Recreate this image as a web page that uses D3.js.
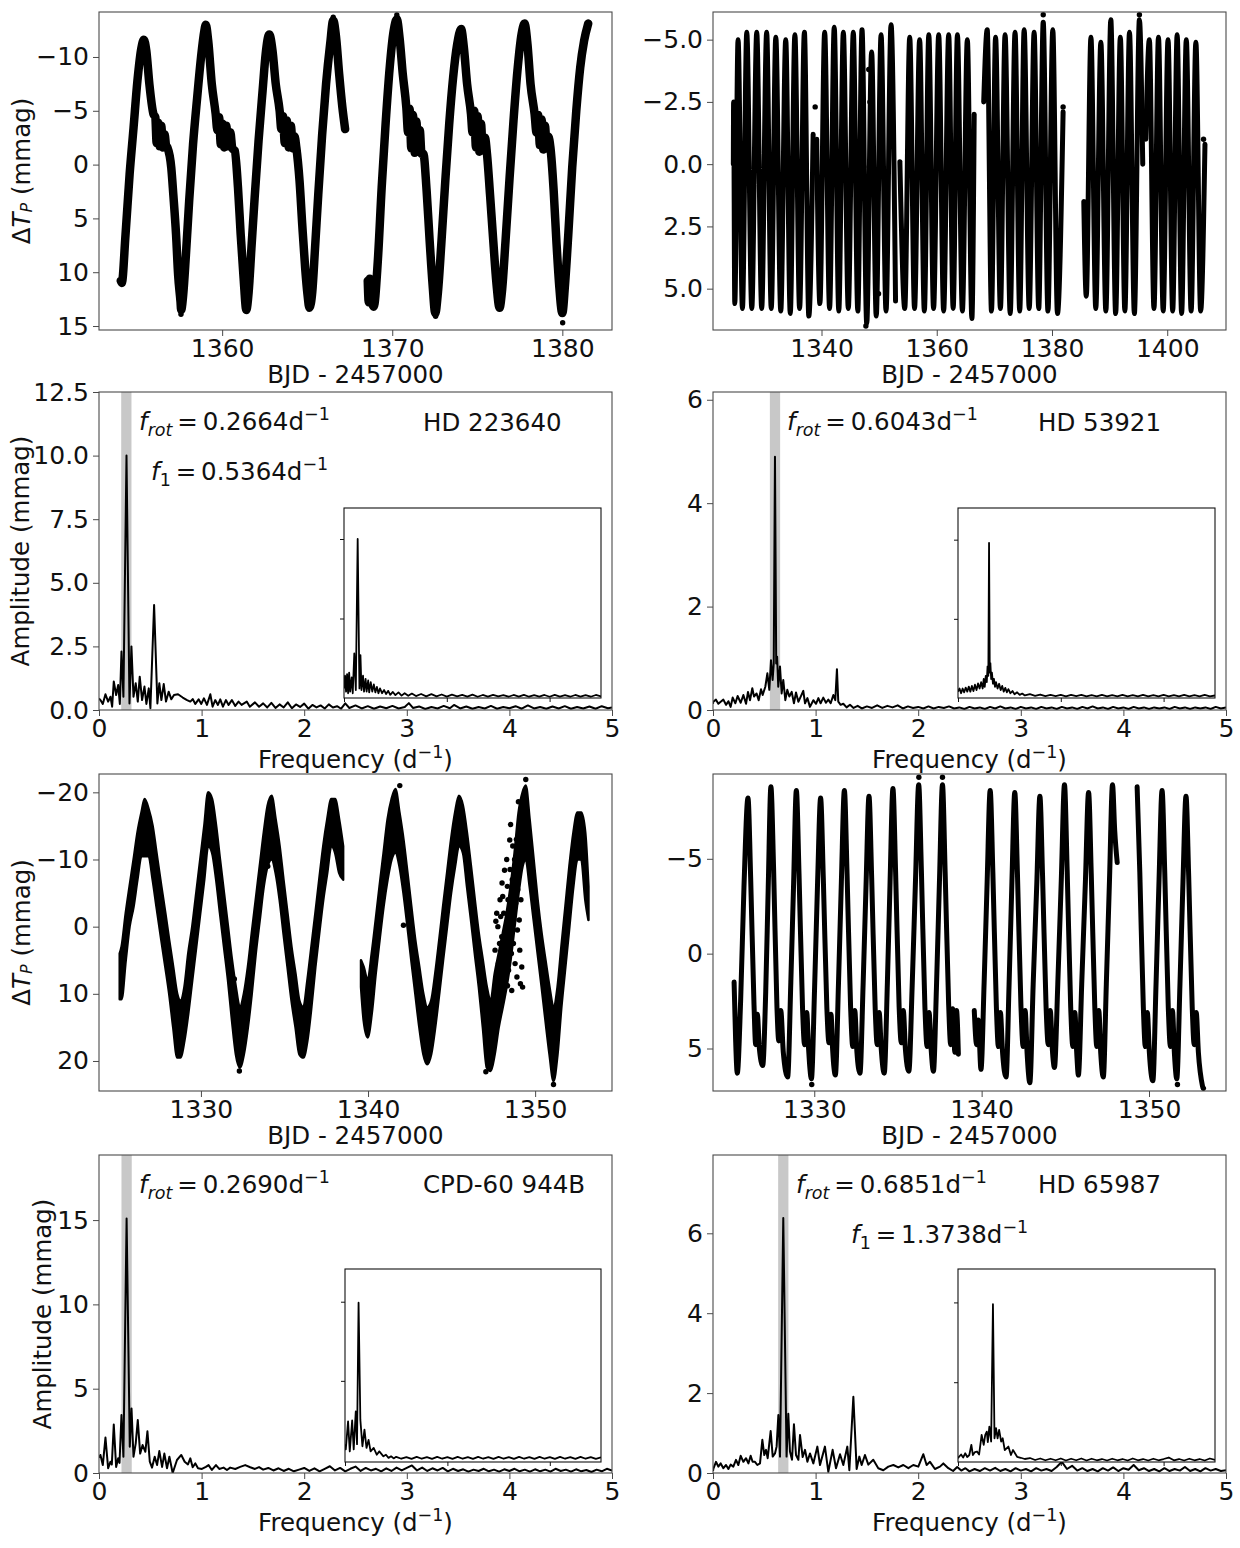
<!DOCTYPE html>
<html><head><meta charset="utf-8">
<script src="https://cdn.jsdelivr.net/npm/d3@7"></script>
<style>
body{margin:0;background:#fff}
svg{display:block}
text{font-family:"DejaVu Sans",sans-serif;fill:#111}
</style>
</head><body>
<script>
// ---------------- DATA ----------------
const lcHD223640 = [
 [[1354.04,10.8],[1354.1,11.0],[1354.32,6.5],[1354.56,0.9],[1354.79,-3.4],[1355.02,-7.8],[1355.26,-10.9],[1355.4,-11.6],[1355.54,-10.6],[1355.72,-7.5],[1355.96,-4.7],
  [1356.07,-4.4],[1356.15,-2.0],[1356.24,-3.9],[1356.33,-1.7],[1356.42,-3.6],[1356.52,-1.6],[1356.62,-2.8],[1356.7,-1.8],
  [1356.78,-1.6],[1357.01,0.3],[1357.13,2.8],[1357.29,6.5],[1357.41,10.2],[1357.55,12.7],[1357.59,13.5],[1357.71,12.1],[1357.87,8.4],[1358.06,3.4],[1358.29,-1.9],[1358.53,-6.2],[1358.76,-10],[1358.95,-12.4],[1359.04,-13.0],[1359.18,-11.5],[1359.39,-7.5],[1359.62,-4.7],
  [1359.72,-3.2],[1359.82,-4.4],[1359.92,-1.9],[1360.02,-3.8],[1360.12,-1.6],[1360.24,-3.6],[1360.36,-1.7],[1360.48,-3.0],[1360.6,-1.5],
  [1360.74,-1.3],[1360.93,2.1],[1361.09,6.5],[1361.26,10.5],[1361.42,13.5],[1361.56,11.8],[1361.72,7.8],[1361.91,3.1],[1362.14,-2.2],[1362.38,-6.9],[1362.56,-10.3],[1362.77,-12.1],[1362.96,-10.6],[1363.15,-7.5],[1363.38,-5.0],
  [1363.48,-3.3],[1363.58,-4.5],[1363.68,-2.0],[1363.8,-4.1],[1363.92,-1.6],[1364.04,-3.6],[1364.16,-1.5],[1364.26,-2.6],
  [1364.36,-1.6],[1364.55,1.5],[1364.71,5.6],[1364.88,9.6],[1365.02,12.1],[1365.13,13.3],[1365.3,11.8],[1365.46,7.8],[1365.65,2.8],[1365.88,-2.8],[1366.11,-7.5],[1366.35,-11.2],[1366.53,-13.4],[1366.7,-11.8],[1366.88,-8.4],[1367.07,-5.3],[1367.23,-3.3]],
 [[1368.56,10.8],[1368.62,12.8],[1368.68,10.6],[1368.73,12.1],[1368.91,13.2],[1369.15,9.0],[1369.38,2.1],[1369.61,-3.8],[1369.85,-9.0],[1370.08,-12.4],[1370.27,-13.5],[1370.43,-11.8],[1370.62,-8.4],[1370.83,-5.3],
  [1370.93,-3.0],[1371.02,-5.2],[1371.12,-1.5],[1371.22,-4.6],[1371.32,-1.1],[1371.42,-4.0],[1371.52,-1.2],[1371.62,-3.2],[1371.72,-1.0],
  [1371.83,-1.0],[1372.02,2.4],[1372.2,7.1],[1372.37,11.1],[1372.53,13.8],[1372.69,11.8],[1372.88,7.5],[1373.12,1.5],[1373.35,-3.8],[1373.58,-8.1],[1373.82,-11.2],[1374.05,-12.6],[1374.21,-10.9],[1374.4,-7.5],[1374.63,-4.7],
  [1374.72,-3.0],[1374.82,-5.0],[1374.92,-1.6],[1375.02,-4.5],[1375.12,-1.2],[1375.22,-3.8],[1375.32,-1.3],[1375.45,-2.5],
  [1375.57,-1.0],[1375.75,2.8],[1375.94,7.1],[1376.13,11.1],[1376.31,13.3],[1376.45,11.8],[1376.66,7.1],[1376.9,1.2],[1377.13,-4.1],[1377.36,-8.7],[1377.6,-12.1],[1377.78,-13.1],[1377.95,-11.2],[1378.13,-7.5],[1378.37,-4.7],
  [1378.48,-3.0],[1378.58,-4.6],[1378.68,-1.8],[1378.78,-4.2],[1378.88,-1.4],[1378.98,-3.6],[1379.08,-1.5],[1379.18,-2.6],
  [1379.3,-1.6],[1379.49,2.4],[1379.65,7.1],[1379.81,11.1],[1380.0,13.8],[1380.16,11.1],[1380.35,6.5],[1380.58,0.3],[1380.82,-5],[1381.05,-9.0],[1381.28,-11.5],[1381.52,-13.1]]
];
const dotsHD223640 = [[1380.02,14.7],[1357.58,13.9],[1370.27,-13.9],[1366.53,-13.7],[1372.55,14.1]];

const lcHD53921 = [
 [[1324.7,0.0],[1324.75,-2.5],[1324.95,5.6],[1325.52,-5.0],[1326.28,5.8],[1327.03,-5.3],[1327.9,5.8],[1328.76,-5.3],[1329.62,5.8],[1330.48,-5.3],[1331.28,5.8],[1332.07,-5.1],[1332.93,5.9],[1333.79,-5.0],[1334.58,6.0],[1335.38,-5.2],[1336.2,5.8],[1337.03,-5.3],[1337.8,6.1],[1338.55,-1.2]],
 [[1339.17,-1.0],[1339.72,5.6],[1340.55,-5.3],[1341.4,5.8],[1342.21,-5.5],[1343.0,5.9],[1343.79,-5.3],[1344.65,5.8],[1345.52,-5.3],[1346.3,5.9],[1347.03,-5.4],[1347.85,6.4],[1348.7,-4.5],[1349.5,6.1],[1350.34,-5.2],[1351.2,5.9],[1352.07,-5.6],[1352.85,5.5]],
 [[1353.6,-0.1],[1353.75,1.4],[1354.45,5.8],[1355.31,-5.1],[1356.15,5.8],[1357.03,-5.0],[1357.85,5.9],[1358.62,-5.2],[1359.45,5.8],[1360.34,-5.2],[1361.2,5.9],[1362.07,-5.2],[1362.85,5.8],[1363.59,-5.2],[1364.45,5.9],[1365.31,-5.0],[1366.1,6.2],[1366.5,-2.0]],
 [[1368.15,-2.5],[1368.76,-5.4],[1369.5,5.9],[1370.21,-5.1],[1371.05,5.8],[1371.86,-5.2],[1372.75,6.0],[1373.59,-5.3],[1374.4,5.9],[1375.17,-5.4],[1376.05,5.8],[1376.9,-5.3],[1377.7,5.8],[1378.48,-5.7],[1379.3,5.9],[1380.14,-5.4],[1380.95,6.0],[1381.93,-2.1]],
 [[1385.52,1.5],[1385.95,5.3],[1386.76,-5.1],[1387.6,5.8],[1388.48,-4.9],[1389.35,5.9],[1390.21,-5.8],[1391.05,6.0],[1391.86,-5.1],[1392.65,5.9],[1393.45,-5.3],[1394.3,6.0],[1395.17,-5.8],[1395.75,0.0]],
 [[1396.28,-1.0],[1396.9,-5.0],[1397.7,5.8],[1398.48,-5.1],[1399.3,5.9],[1400.14,-5.0],[1400.95,5.9],[1401.72,-5.2],[1402.5,6.0],[1403.31,-5.0],[1404.15,5.9],[1404.97,-4.9],[1405.8,5.9],[1406.55,-0.8]]
];
const dotsHD53921 = [[1378.48,-6.0],[1347.7,6.5],[1395.17,-6.0],[1338.9,-2.3],[1381.93,-2.3],[1406.3,-1.0],[1348.2,-3.8],[1348.4,-2.5],[1348.3,0.1],[1349.9,5.2]];

const lcCPD60944B = [
 [[1325.14,4,10.8],[1325.25,3,10.8],[1325.5,-2,5],[1325.73,-6,0],[1325.97,-10,-3],[1326.2,-14,-7],[1326.44,-17,-10.5],[1326.63,-19,-10.5],[1326.87,-17.5,-10.5],[1327.11,-15,-7],[1327.34,-11,-3],[1327.63,-6,2],[1327.87,-2,6],[1328.1,2,10],[1328.34,6,15],[1328.58,10,19.5],[1328.77,11,19.5],[1329.01,9,17],[1329.24,4,13],[1329.48,0,8],[1329.72,-5,3],[1329.96,-10,-2],[1330.2,-15,-7],[1330.43,-20,-12],[1330.67,-19,-11],[1330.91,-15,-7],[1331.14,-10,-2],[1331.38,-5,3],[1331.62,0,8],[1331.86,5,14],[1332.09,9,19],[1332.33,12,21],[1332.57,10,19],[1332.81,6,15],[1333.04,1,10],[1333.28,-4,4],[1333.52,-9,-1],[1333.76,-14,-6],[1333.99,-18,-9],[1334.23,-19.5,-10],[1334.47,-16,-8],[1334.71,-12,-4],[1334.94,-7,1],[1335.18,-2,6],[1335.42,3,11],[1335.66,7,15],[1335.89,11,19],[1336.13,12,19.5],[1336.37,8,17],[1336.61,3,12],[1336.85,-2,6],[1337.08,-7,1],[1337.32,-12,-4],[1337.56,-16,-8],[1337.8,-19,-12],[1338.03,-19,-11],[1338.27,-16,-8],[1338.51,-12,-7]],
 [[1339.58,5,9],[1339.74,6,14],[1339.98,8,16.5],[1340.22,4,13],[1340.46,-1,7],[1340.69,-6,2],[1340.93,-11,-3],[1341.17,-16,-7],[1341.41,-19,-10],[1341.64,-20.5,-11],[1341.88,-17,-9],[1342.12,-13,-5],[1342.36,-8,0],[1342.59,-3,5],[1342.83,2,10],[1343.07,6,15],[1343.31,10,19],[1343.54,12,20.5],[1343.78,11,19],[1344.02,7,15],[1344.26,2,10],[1344.49,-3,5],[1344.73,-8,0],[1344.97,-13,-5],[1345.21,-17,-9],[1345.44,-19.5,-12],[1345.68,-18,-11],[1345.92,-14,-6],[1346.16,-9,-1],[1346.39,-4,4],[1346.63,1,9],[1346.87,5,15],[1347.11,9,21],[1347.34,11,21.5],[1347.58,7,19],[1347.82,4,15],[1348.06,1,12],[1348.29,-2,9],[1348.53,-6,5],[1348.77,-11,0],[1349.01,-17,-5],[1349.25,-20,-9],[1349.44,-21,-10],[1349.67,-16,-6],[1349.91,-10,-1],[1350.15,-4,4],[1350.39,1,9],[1350.62,5,14],[1350.86,9,19],[1351.1,12,23],[1351.34,9,19],[1351.57,3,12],[1351.81,-3,6],[1352.05,-9,0],[1352.29,-14,-6],[1352.53,-17,-10],[1352.76,-17,-10],[1353.0,-14,-4],[1353.19,-6,-1]]
];
const dotsCPD60944B = [[1347.7,-2.0],[1347.77,0],[1347.87,2.5],[1347.94,-1.5],[1348.06,-4.5],[1348.1,4.5],[1348.17,-8.4],[1348.25,0.5],[1348.34,-6],[1348.41,6.5],[1348.48,-12.9],[1348.53,-2.5],[1348.63,-7],[1348.7,2.5],[1348.77,-10],[1348.84,-3.5],[1348.91,7.5],[1348.96,-5.5],[1349.05,-1],[1349.12,8.5],[1348.53,-15.2],[1349.0,-18.6],[1349.44,-21.9],[1342.12,-0.2],[1347.05,21.6],[1341.9,-21],[1332.3,21.5],[1351.1,23.5],[1332.0,7.8],[1334.0,-9.0],
 [1347.6,3.5],[1347.65,-0.8],[1347.8,5.5],[1347.9,-4.0],[1348.0,1.5],[1348.02,-6.5],[1348.12,-2.0],[1348.2,3.0],[1348.3,-10.0],[1348.38,-4.0],[1348.45,1.0],[1348.5,-8.5],[1348.58,4.0],[1348.66,-12.0],[1348.73,-1.0],[1348.8,5.5],[1348.88,-13.0],[1348.94,0.5],[1349.02,-8.0],[1349.08,3.5],[1349.15,-4.0],[1349.2,6.0],[1348.15,6.8],[1348.35,8.8],[1348.6,9.5],[1349.25,9.0]];

const lcHD65987 = [
 [[1325.21,1.5],[1325.3,4.5],[1325.4,6.3],[1325.6,2.5],[1325.8,-3.5],[1326.04,-8.2],[1326.2,-4],[1326.4,2.7],[1326.5,4.8],[1326.6,3.2],[1326.72,5.0],[1326.92,5.9],[1327.1,2.0],[1327.25,-3.5],[1327.41,-8.8],[1327.57,-4.5],[1327.77,2.8],[1327.88,4.6],[1328.0,3.0],[1328.15,5.2],[1328.41,6.5],[1328.6,1.5],[1328.76,-3.5],[1328.93,-8.6],[1329.09,-4.2],[1329.3,2.9],[1329.42,4.8],[1329.55,3.1],[1329.66,5.0],[1329.83,6.6],[1330.02,1.8],[1330.2,-3.8],[1330.38,-8.2],[1330.54,-4.0],[1330.75,2.8],[1330.88,4.7],[1331.0,3.2],[1331.1,5.1],[1331.26,6.4],[1331.45,1.5],[1331.62,-3.8],[1331.8,-8.6],[1331.96,-4.2],[1332.17,2.8],[1332.3,4.9],[1332.42,3.0],[1332.55,5.2],[1332.73,6.3],[1332.92,1.6],[1333.1,-3.8],[1333.27,-8.3],[1333.43,-4.0],[1333.64,2.9],[1333.76,4.8],[1333.88,3.1],[1334.0,5.0],[1334.18,6.3],[1334.37,1.5],[1334.53,-3.8],[1334.7,-8.7],[1334.86,-4.3],[1335.07,2.8],[1335.2,4.7],[1335.32,3.0],[1335.45,5.1],[1335.65,6.2],[1335.85,1.7],[1336.05,-3.9],[1336.24,-8.9],[1336.4,-4.4],[1336.61,2.8],[1336.74,4.9],[1336.86,3.1],[1336.98,5.0],[1337.12,6.2],[1337.3,1.8],[1337.48,-3.8],[1337.66,-8.9],[1337.82,-4.3],[1338.03,2.7],[1338.15,4.8],[1338.27,2.9],[1338.4,5.2],[1338.5,3.0],[1338.61,5.3]],
 [[1339.56,3.0],[1339.7,4.8],[1339.8,3.5],[1339.96,6.1],[1340.15,1.5],[1340.33,-3.8],[1340.51,-8.6],[1340.67,-4.3],[1340.88,2.8],[1341.0,4.9],[1341.12,3.1],[1341.25,5.2],[1341.46,6.5],[1341.64,1.6],[1341.81,-3.8],[1341.98,-8.5],[1342.14,-4.2],[1342.35,2.8],[1342.48,4.9],[1342.6,3.0],[1342.72,5.3],[1342.88,6.8],[1343.08,1.6],[1343.3,-3.8],[1343.48,-8.3],[1343.64,-4.1],[1343.85,2.8],[1343.98,4.8],[1344.1,3.0],[1344.22,5.0],[1344.35,6.0],[1344.55,1.6],[1344.76,-3.9],[1344.95,-8.9],[1345.11,-4.4],[1345.32,2.8],[1345.45,4.9],[1345.57,3.1],[1345.68,5.2],[1345.78,6.4],[1345.98,1.6],[1346.2,-3.8],[1346.39,-8.5],[1346.55,-4.2],[1346.76,2.8],[1346.88,4.9],[1347.0,3.0],[1347.12,5.3],[1347.27,6.5],[1347.45,1.6],[1347.64,-3.9],[1347.82,-8.9],[1347.95,-6.5],[1348.1,-4.8]],
 [[1349.29,-8.8],[1349.45,-4.3],[1349.66,2.8],[1349.78,4.9],[1349.9,3.1],[1350.02,5.2],[1350.23,6.7],[1350.42,1.6],[1350.6,-3.9],[1350.78,-8.6],[1350.94,-4.3],[1351.15,2.8],[1351.28,4.9],[1351.4,3.0],[1351.52,5.3],[1351.66,6.6],[1351.85,1.6],[1352.03,-3.8],[1352.21,-8.3],[1352.37,-4.1],[1352.58,2.8],[1352.7,4.8],[1352.82,3.1],[1352.95,5.2],[1353.2,7.0]]
];
const dotsHD65987 = [[1336.25,-9.3],[1337.66,-9.3],[1329.85,6.9],[1351.7,6.9],[1353.25,7.1]];

const pgHD223640 = [[0.0,0.45],[0.014,0.39],[0.037,0.24],[0.063,0.62],[0.089,0.33],[0.112,0.52],[0.128,0.13],[0.144,1.12],[0.167,0.59],[0.187,0.98],[0.203,0.24],[0.219,2.3],[0.238,0.52],[0.268,10.0],[0.297,0.26],[0.316,2.5],[0.336,0.52],[0.358,1.05],[0.378,0.33],[0.397,1.31],[0.42,0.39],[0.443,0.92],[0.462,0.24],[0.485,0.85],[0.501,0.07],[0.537,4.13],[0.569,0.26],[0.588,1.05],[0.608,0.39],[0.631,1.02],[0.653,0.33],[0.679,0.72],[0.705,0.42],[0.731,0.59],[0.77,0.62],[0.816,0.49],[0.858,0.39],[0.89,0.33],[0.913,0.43],[0.939,0.24],[0.971,0.42],[0.997,0.24],[1.023,0.46],[1.052,0.2],[1.085,0.62],[1.107,0.13],[1.133,0.39],[1.159,0.2],[1.182,0.42],[1.208,0.13],[1.237,0.39],[1.263,0.2],[1.295,0.39],[1.328,0.16],[1.36,0.33],[1.39,0.2],[1.44,0.33],[1.47,0.13],[1.52,0.3],[1.56,0.13],[1.6,0.26],[1.64,0.1],[1.68,0.28],[1.72,0.08],[1.76,0.22],[1.8,0.1],[1.84,0.3],[1.88,0.07],[1.92,0.22],[1.96,0.12],[2.0,0.25],[2.04,0.05],[2.08,0.2],[2.12,0.1],[2.16,0.18],[2.2,0.06],[2.24,0.22],[2.28,0.1],[2.32,0.15],[2.36,0.05],[2.4,0.26],[2.44,0.08],[2.5,0.18],[2.56,0.06],[2.62,0.15],[2.68,0.05],[2.74,0.14],[2.8,0.07],[2.86,0.16],[2.92,0.06],[2.98,0.12],[3.02,0.27],[3.06,0.08],[3.12,0.14],[3.18,0.04],[3.24,0.12],[3.3,0.06],[3.36,0.16],[3.42,0.07],[3.46,0.2],[3.52,0.06],[3.58,0.14],[3.64,0.05],[3.7,0.12],[3.76,0.06],[3.82,0.16],[3.88,0.05],[3.94,0.12],[4.0,0.07],[4.06,0.15],[4.12,0.05],[4.18,0.18],[4.24,0.06],[4.3,0.12],[4.36,0.05],[4.42,0.14],[4.48,0.06],[4.54,0.15],[4.6,0.05],[4.66,0.12],[4.72,0.06],[4.78,0.14],[4.84,0.05],[4.9,0.15],[4.96,0.07],[5.0,0.1]];
const insHD223640 = [[0,0.6],[0.02,1.4],[0.04,0.4],[0.06,1.5],[0.08,0.3],[0.1,1.6],[0.12,0.4],[0.15,1.3],[0.17,0.3],[0.2,2.8],[0.23,0.5],[0.266,10.0],[0.3,0.6],[0.32,2.7],[0.34,0.5],[0.37,1.4],[0.39,0.4],[0.42,1.2],[0.44,0.4],[0.47,1.1],[0.49,0.35],[0.52,1.0],[0.55,0.4],[0.58,0.85],[0.61,0.35],[0.64,0.7],[0.67,0.3],[0.7,0.6],[0.74,0.3],[0.78,0.5],[0.82,0.25],[0.86,0.45],[0.9,0.2],[0.95,0.38],[1.0,0.18],[1.06,0.35],[1.12,0.15],[1.18,0.3],[1.25,0.14],[1.32,0.28],[1.4,0.12],[1.5,0.25],[1.6,0.1],[1.7,0.24],[1.8,0.1],[1.9,0.22],[2.0,0.09],[2.1,0.21],[2.2,0.1],[2.3,0.2],[2.4,0.09],[2.5,0.21],[2.6,0.08],[2.7,0.19],[2.8,0.09],[2.9,0.2],[3.0,0.1],[3.1,0.18],[3.2,0.08],[3.3,0.19],[3.4,0.09],[3.5,0.2],[3.6,0.08],[3.7,0.18],[3.8,0.09],[3.9,0.19],[4.0,0.08],[4.1,0.2],[4.2,0.09],[4.3,0.18],[4.4,0.08],[4.5,0.19],[4.6,0.09],[4.7,0.18],[4.8,0.08],[4.9,0.19],[5.0,0.1]];

const pgHD53921 = [[0,0.12],[0.003,0.16],[0.029,0.2],[0.052,0.12],[0.075,0.16],[0.101,0.2],[0.127,0.1],[0.15,0.17],[0.172,0.06],[0.192,0.24],[0.218,0.13],[0.24,0.27],[0.27,0.14],[0.296,0.29],[0.322,0.12],[0.341,0.35],[0.361,0.19],[0.383,0.42],[0.4,0.26],[0.425,0.32],[0.445,0.19],[0.468,0.4],[0.484,0.29],[0.51,0.45],[0.53,0.71],[0.549,0.39],[0.565,0.96],[0.581,0.58],[0.592,0.9],[0.604,4.9],[0.616,0.9],[0.625,1.03],[0.636,0.45],[0.653,0.84],[0.669,0.32],[0.685,0.58],[0.705,0.19],[0.724,0.39],[0.744,0.26],[0.767,0.35],[0.789,0.13],[0.809,0.34],[0.832,0.16],[0.855,0.26],[0.88,0.37],[0.897,0.13],[0.92,0.23],[0.945,0.06],[0.978,0.19],[1.004,0.12],[1.027,0.23],[1.049,0.13],[1.075,0.24],[1.101,0.14],[1.124,0.2],[1.147,0.13],[1.173,0.29],[1.192,0.19],[1.208,0.79],[1.221,0.16],[1.244,0.1],[1.27,0.12],[1.302,0.05],[1.335,0.1],[1.37,0.04],[1.41,0.08],[1.45,0.03],[1.5,0.07],[1.55,0.04],[1.6,0.09],[1.65,0.04],[1.7,0.08],[1.75,0.05],[1.8,0.09],[1.85,0.03],[1.9,0.07],[1.95,0.04],[2.0,0.06],[2.05,0.03],[2.1,0.07],[2.15,0.03],[2.2,0.06],[2.25,0.04],[2.3,0.07],[2.35,0.03],[2.4,0.05],[2.45,0.02],[2.5,0.06],[2.55,0.03],[2.6,0.05],[2.65,0.02],[2.7,0.06],[2.75,0.03],[2.8,0.07],[2.85,0.03],[2.9,0.05],[2.95,0.02],[3.0,0.06],[3.05,0.03],[3.1,0.05],[3.15,0.02],[3.2,0.06],[3.25,0.03],[3.3,0.05],[3.35,0.02],[3.4,0.06],[3.45,0.03],[3.5,0.05],[3.55,0.02],[3.6,0.06],[3.65,0.03],[3.7,0.07],[3.75,0.03],[3.8,0.05],[3.85,0.02],[3.9,0.06],[3.95,0.03],[4.0,0.05],[4.05,0.02],[4.1,0.06],[4.15,0.03],[4.2,0.05],[4.25,0.02],[4.3,0.05],[4.35,0.03],[4.4,0.05],[4.45,0.02],[4.5,0.06],[4.55,0.03],[4.6,0.05],[4.65,0.02],[4.7,0.05],[4.75,0.03],[4.8,0.05],[4.85,0.02],[4.9,0.06],[4.95,0.03],[5.0,0.05]];
const insHD53921 = [[0,0.2],[0.03,0.3],[0.06,0.15],[0.09,0.3],[0.12,0.18],[0.15,0.33],[0.18,0.2],[0.21,0.36],[0.24,0.2],[0.27,0.38],[0.3,0.22],[0.33,0.42],[0.36,0.25],[0.39,0.46],[0.42,0.3],[0.45,0.5],[0.48,0.3],[0.5,0.6],[0.52,0.35],[0.54,0.7],[0.56,0.5],[0.575,1.0],[0.59,0.7],[0.604,4.9],[0.618,0.8],[0.63,1.1],[0.645,0.6],[0.66,0.8],[0.68,0.45],[0.7,0.6],[0.72,0.35],[0.74,0.5],[0.77,0.3],[0.8,0.45],[0.83,0.25],[0.86,0.38],[0.89,0.2],[0.92,0.32],[0.95,0.18],[0.98,0.28],[1.02,0.15],[1.06,0.22],[1.1,0.12],[1.15,0.18],[1.2,0.1],[1.25,0.14],[1.3,0.08],[1.4,0.12],[1.5,0.07],[1.6,0.11],[1.7,0.06],[1.8,0.1],[1.9,0.06],[2.0,0.1],[2.1,0.05],[2.2,0.1],[2.3,0.06],[2.4,0.1],[2.5,0.05],[2.6,0.09],[2.7,0.05],[2.8,0.1],[2.9,0.05],[3.0,0.09],[3.1,0.05],[3.2,0.1],[3.3,0.05],[3.4,0.09],[3.5,0.05],[3.6,0.1],[3.7,0.05],[3.8,0.09],[3.9,0.05],[4.0,0.1],[4.1,0.05],[4.2,0.09],[4.3,0.05],[4.4,0.1],[4.5,0.05],[4.6,0.09],[4.7,0.05],[4.8,0.1],[4.9,0.05],[5.0,0.08]];

const pgCPD60944B = [[0,0.9],[0.014,1.07],[0.037,0.47],[0.063,2.1],[0.089,0.28],[0.112,0.67],[0.125,0.5],[0.144,2.88],[0.167,0.36],[0.187,0.87],[0.2,0.6],[0.219,3.44],[0.238,0.96],[0.269,15.1],[0.3,1.56],[0.317,3.83],[0.336,0.96],[0.358,1.76],[0.378,3.14],[0.401,1.15],[0.425,1.66],[0.452,1.26],[0.472,2.47],[0.495,0.67],[0.517,0.32],[0.543,0.96],[0.566,0.47],[0.588,1.3],[0.615,0.36],[0.637,1.15],[0.663,0.28],[0.686,0.96],[0.718,0.0],[0.76,0.77],[0.802,1.07],[0.835,0.67],[0.867,0.51],[0.89,0.87],[0.913,0.34],[0.939,0.57],[0.965,0.28],[1.003,0.24],[1.042,0.36],[1.068,0.47],[1.1,0.18],[1.14,0.47],[1.172,0.24],[1.214,0.32],[1.247,0.18],[1.279,0.32],[1.328,0.24],[1.376,0.36],[1.425,0.47],[1.474,0.34],[1.52,0.24],[1.56,0.35],[1.6,0.2],[1.65,0.3],[1.7,0.15],[1.75,0.28],[1.8,0.12],[1.85,0.25],[1.9,0.1],[1.95,0.2],[2.0,0.3],[2.05,0.12],[2.1,0.28],[2.15,0.1],[2.2,0.25],[2.25,0.4],[2.3,0.15],[2.35,0.3],[2.4,0.1],[2.45,0.25],[2.5,0.38],[2.55,0.12],[2.6,0.3],[2.65,0.15],[2.7,0.25],[2.75,0.1],[2.8,0.28],[2.85,0.12],[2.9,0.32],[2.95,0.15],[3.0,0.3],[3.05,0.45],[3.1,0.15],[3.15,0.32],[3.2,0.12],[3.25,0.28],[3.3,0.15],[3.35,0.3],[3.4,0.1],[3.45,0.25],[3.5,0.12],[3.55,0.22],[3.6,0.08],[3.65,0.2],[3.7,0.12],[3.75,0.25],[3.8,0.1],[3.85,0.2],[3.9,0.08],[3.95,0.22],[4.0,0.12],[4.05,0.25],[4.1,0.1],[4.15,0.2],[4.2,0.08],[4.25,0.22],[4.3,0.1],[4.35,0.2],[4.4,0.08],[4.45,0.25],[4.5,0.12],[4.55,0.2],[4.6,0.08],[4.65,0.22],[4.7,0.1],[4.75,0.18],[4.8,0.06],[4.85,0.2],[4.9,0.1],[4.95,0.25],[5.0,0.15]];
const insCPD60944B = [[0,1.5],[0.015,1.0],[0.06,3.66],[0.093,0.82],[0.14,3.75],[0.17,1.0],[0.21,4.6],[0.235,1.5],[0.265,14.9],[0.3,3.8],[0.34,1.3],[0.38,2.87],[0.42,1.14],[0.46,1.9],[0.5,0.82],[0.56,1.14],[0.62,0.5],[0.67,0.82],[0.75,0.35],[0.8,0.5],[0.85,0.2],[0.9,0.35],[0.95,0.15],[1.0,0.3],[1.1,0.12],[1.2,0.28],[1.3,0.1],[1.4,0.3],[1.5,0.12],[1.6,0.28],[1.7,0.1],[1.8,0.3],[1.9,0.12],[2.0,0.28],[2.1,0.1],[2.2,0.3],[2.3,0.12],[2.4,0.28],[2.5,0.1],[2.6,0.3],[2.7,0.12],[2.8,0.28],[2.9,0.1],[3.0,0.3],[3.1,0.12],[3.2,0.28],[3.3,0.1],[3.4,0.3],[3.5,0.12],[3.6,0.28],[3.7,0.1],[3.8,0.3],[3.9,0.12],[4.0,0.28],[4.1,0.1],[4.2,0.3],[4.3,0.12],[4.4,0.28],[4.5,0.1],[4.6,0.3],[4.7,0.12],[4.8,0.28],[4.9,0.1],[5.0,0.25]];

const pgHD65987 = [[0,0.05],[0.003,0.1],[0.029,0.28],[0.052,0.16],[0.075,0.24],[0.101,0.12],[0.127,0.2],[0.15,0.1],[0.172,0.21],[0.198,0.16],[0.224,0.33],[0.247,0.2],[0.27,0.43],[0.296,0.28],[0.322,0.37],[0.345,0.24],[0.367,0.43],[0.386,0.28],[0.409,0.28],[0.432,0.2],[0.458,0.24],[0.481,0.83],[0.5,0.45],[0.517,0.58],[0.533,0.37],[0.562,1.05],[0.582,0.41],[0.604,0.49],[0.62,0.66],[0.637,1.45],[0.653,0.41],[0.685,6.38],[0.717,0.41],[0.734,1.48],[0.75,0.54],[0.77,0.33],[0.789,1.22],[0.809,0.45],[0.832,0.33],[0.848,0.95],[0.874,0.4],[0.897,0.58],[0.92,0.28],[0.945,0.49],[0.978,0.24],[1.017,0.66],[1.043,0.2],[1.091,0.66],[1.124,0.03],[1.166,0.58],[1.199,0.12],[1.238,0.47],[1.27,0.2],[1.309,0.66],[1.329,0.07],[1.368,1.91],[1.4,0.1],[1.426,0.41],[1.449,0.2],[1.481,0.45],[1.514,0.21],[1.562,0.33],[1.611,0.12],[1.66,0.07],[1.709,0.16],[1.758,0.2],[1.806,0.14],[1.855,0.2],[1.904,0.12],[1.952,0.2],[2.001,0.16],[2.05,0.47],[2.082,0.2],[2.115,0.28],[2.163,0.1],[2.212,0.16],[2.245,0.24],[2.294,0.12],[2.34,0.05],[2.38,0.15],[2.42,0.06],[2.46,0.12],[2.5,0.04],[2.55,0.1],[2.6,0.05],[2.65,0.12],[2.7,0.06],[2.75,0.13],[2.8,0.05],[2.85,0.1],[2.9,0.04],[2.95,0.12],[3.0,0.06],[3.05,0.1],[3.1,0.04],[3.15,0.12],[3.2,0.06],[3.25,0.1],[3.3,0.05],[3.35,0.15],[3.4,0.28],[3.45,0.1],[3.5,0.18],[3.55,0.06],[3.6,0.12],[3.65,0.05],[3.7,0.1],[3.75,0.04],[3.8,0.12],[3.85,0.06],[3.9,0.14],[3.95,0.05],[4.0,0.12],[4.05,0.08],[4.1,0.2],[4.15,0.07],[4.2,0.12],[4.25,0.05],[4.3,0.1],[4.35,0.04],[4.4,0.12],[4.45,0.05],[4.5,0.1],[4.55,0.06],[4.6,0.15],[4.65,0.05],[4.7,0.1],[4.75,0.04],[4.8,0.12],[4.85,0.06],[4.9,0.1],[4.95,0.05],[5.0,0.07]];
const insHD65987 = [[0,0.15],[0.02,0.21],[0.06,0.3],[0.1,0.18],[0.14,0.35],[0.18,0.2],[0.22,0.28],[0.26,0.69],[0.29,0.28],[0.33,0.4],[0.37,0.42],[0.41,0.3],[0.46,1.09],[0.5,0.69],[0.53,1.09],[0.56,1.22],[0.58,0.8],[0.61,1.42],[0.645,0.82],[0.68,6.33],[0.71,0.95],[0.74,1.36],[0.77,0.95],[0.8,1.29],[0.84,0.82],[0.87,0.95],[0.91,0.48],[0.98,0.62],[1.03,0.28],[1.07,0.48],[1.15,0.21],[1.22,0.17],[1.3,0.12],[1.4,0.16],[1.5,0.08],[1.6,0.14],[1.7,0.07],[1.8,0.13],[1.9,0.07],[2.0,0.14],[2.1,0.06],[2.2,0.13],[2.3,0.07],[2.4,0.14],[2.5,0.06],[2.6,0.13],[2.7,0.07],[2.8,0.12],[2.9,0.06],[3.0,0.13],[3.1,0.07],[3.2,0.12],[3.3,0.06],[3.4,0.14],[3.5,0.07],[3.6,0.12],[3.7,0.06],[3.8,0.13],[3.9,0.07],[4.0,0.12],[4.1,0.18],[4.2,0.07],[4.3,0.12],[4.4,0.06],[4.5,0.13],[4.6,0.07],[4.7,0.12],[4.8,0.06],[4.9,0.14],[5.0,0.08]];

const starNames = ["HD 223640","HD 53921","CPD-60 944B","HD 65987"];
const fRot = [0.2664, 0.6043, 0.2690, 0.6851];
const fOne = [0.5364, null, null, 1.3738];

const ticksLcX = [[1360,1370,1380],[1340,1360,1380,1400],[1330,1340,1350],[1330,1340,1350]];
const ticksLcY = [[-10,-5,0,5,10,15],[-5,-2.5,0,2.5,5],[-20,-10,0,10,20],[-5,0,5]];
const ticksFreq = [0,1,2,3,4,5];
const ticksAmp = [[0,2.5,5,7.5,10,12.5],[0,2,4,6],[0,5,10,15],[0,2,4,6]];
const ticksInsX = [0,2,4];
const ticksInsY = [[5,10],[2.5,5],[7.5,15],[3.2,6.4]];

// ---------------- LAYOUT ----------------
const W = 1240, H = 1548;
const COLS = [{x0:99,x1:612},{x0:713,x1:1226}];
const ROWS = [{y0:12,y1:330},{y0:392,y1:710},{y0:774,y1:1091},{y0:1155,y1:1473}];
const INSETS = [
  {x0:344,x1:601,y0:508,y1:698},{x0:958,x1:1215,y0:508,y1:698},
  {x0:345,x1:601,y0:1269,y1:1462},{x0:958,x1:1215,y0:1269,y1:1462}];
const lcXDom = [[1352.76,1382.92],[1321.17,1410.2],[1323.9,1354.6],[1323.95,1354.6]];
const lcYDom = [[15.37,-14.18],[6.66,-6.11],[24.47,-22.73],[7.24,-9.47]];
const pgYDom = [[0,12.5],[0,6.15],[0,18.86],[0,7.96]];
const insYDom = [[0,11.95],[0,6.0],[-0.19,18.1],[0,7.74]];

const TICKFS = 25, LABFS = 24.5, SUBFS = 17.5;
const FRAME = "#4a4a4a";
const svg = d3.select("body").append("svg").attr("width",W).attr("height",H);
const defs = svg.append("defs");
let clipN = 0;

function fmtMinus(f){ return d => f(d).replace("-", "\u2212"); }

function axes(box, xd, yd, xt, yt, xf, yf, opts={}){
  const g = svg.append("g");
  const x = d3.scaleLinear().domain(xd).range([box.x0, box.x1]);
  const y = d3.scaleLinear().domain(yd).range([box.y1, box.y0]);
  const id = "clip"+(clipN++);
  defs.append("clipPath").attr("id",id).append("rect")
    .attr("x",box.x0).attr("y",box.y0).attr("width",box.x1-box.x0).attr("height",box.y1-box.y0);
  const content = g.append("g").attr("clip-path",`url(#${id})`);
  const tickLen = opts.tickLen ?? 6;
  const col = opts.frame || FRAME;
  const ax = g.append("g").attr("transform",`translate(0,${box.y1})`)
    .call(d3.axisBottom(x).tickValues(xt).tickFormat(xf).tickSize(tickLen).tickSizeOuter(0).tickPadding(3));
  const ay = g.append("g").attr("transform",`translate(${box.x0},0)`)
    .call(d3.axisLeft(y).tickValues(yt).tickFormat(yf).tickSize(tickLen).tickSizeOuter(0).tickPadding(4));
  [ax,ay].forEach(a=>{
    a.select(".domain").remove();
    a.attr("font-size",TICKFS).attr("font-family","DejaVu Sans, sans-serif");
    a.selectAll(".tick line").attr("stroke",col).attr("stroke-width",1);
    a.selectAll(".tick text").attr("fill","#111");
  });
  const frame = g.append("rect").attr("x",box.x0).attr("y",box.y0)
    .attr("width",box.x1-box.x0).attr("height",box.y1-box.y0)
    .attr("fill","none").attr("stroke",col).attr("stroke-width",1.1);
  return {g, content, x, y, frame};
}

function xlabelBJD(col,row){
  const c = COLS[col], r = ROWS[row];
  svg.append("text").attr("x",(c.x0+c.x1)/2).attr("y",r.y1+53).attr("text-anchor","middle")
    .attr("font-size",LABFS).text("BJD - 2457000");
}
function xlabelFreq(col,row){
  const c = COLS[col], r = ROWS[row];
  const t = svg.append("text").attr("x",(c.x0+c.x1)/2).attr("y",r.y1+58).attr("text-anchor","middle")
    .attr("font-size",LABFS);
  t.append("tspan").text("Frequency (d");
  t.append("tspan").attr("font-size",SUBFS).attr("dy",-10).text("\u22121");
  t.append("tspan").attr("dy",10).text(")");
}
function ylabelDT(row,cx){
  const r = ROWS[row], cy = (r.y0+r.y1)/2;
  const t = svg.append("text").attr("transform",`translate(${cx},${cy}) rotate(-90)`)
    .attr("text-anchor","middle").attr("dominant-baseline","central").attr("font-size",LABFS);
  t.append("tspan").text("\u0394");
  t.append("tspan").attr("font-style","italic").text("T");
  t.append("tspan").attr("font-style","italic").attr("font-size",16).attr("dy",5).text("P");
  t.append("tspan").attr("dy",-5).text(" (mmag)");
}
function ylabelAmp(row,cx){
  const r = ROWS[row], cy = (r.y0+r.y1)/2;
  svg.append("text").attr("transform",`translate(${cx},${cy}) rotate(-90)`)
    .attr("text-anchor","middle").attr("dominant-baseline","central").attr("font-size",LABFS)
    .text("Amplitude (mmag)");
}
function fLabel(x,y,sub,italicSub,val){
  const t = svg.append("text").attr("x",x).attr("y",y).attr("font-size",LABFS);
  t.append("tspan").attr("font-style","italic").text("f");
  t.append("tspan").attr("font-style",italicSub?"italic":"normal").attr("font-size",SUBFS).attr("dy",6).text(sub);
  t.append("tspan").attr("dy",-6).text("\u2009=\u2009"+val.toFixed(4)+"d");
  t.append("tspan").attr("font-size",SUBFS).attr("dy",-10).text("\u22121");
}

function lightCurve(i, col, row, segs, dots, sw, isArea){
  const A = axes({...COLS[col],...ROWS[row]}, lcXDom[i], lcYDom[i], ticksLcX[i], ticksLcY[i],
    d=>String(d), i===1 ? fmtMinus(d3.format(".1f")) : fmtMinus(d3.format("d")));
  if(isArea){
    const area = d3.area().x(d=>A.x(d[0])).y0(d=>A.y(d[2])).y1(d=>A.y(d[1])).curve(d3.curveMonotoneX);
    segs.forEach(s=>{
      A.content.append("path").attr("d",area(s)).attr("fill","#000").attr("stroke","#000")
        .attr("stroke-width",sw).attr("stroke-linejoin","round");
    });
  } else {
    const line = d3.line().x(d=>A.x(d[0])).y(d=>A.y(d[1])).curve(d3.curveMonotoneX);
    segs.forEach(s=>{
      A.content.append("path").attr("d",line(s)).attr("fill","none").attr("stroke","#000")
        .attr("stroke-width",sw).attr("stroke-linejoin","round").attr("stroke-linecap","round");
    });
  }
  A.content.selectAll("circle.d").data(dots).join("circle").attr("class","d")
    .attr("cx",d=>A.x(d[0])).attr("cy",d=>A.y(d[1])).attr("r",2.7).attr("fill","#000");
}
lightCurve(0,0,0,lcHD223640,dotsHD223640,8.5,false);
lightCurve(1,1,0,lcHD53921,dotsHD53921,5,false);
lightCurve(2,0,2,lcCPD60944B,dotsCPD60944B,2.5,true);
lightCurve(3,1,2,lcHD65987,dotsHD65987,5,false);

const pgs = [pgHD223640,pgHD53921,pgCPD60944B,pgHD65987];
const inss = [insHD223640,insHD53921,insCPD60944B,insHD65987];
const pgPos = [[0,1],[1,1],[0,3],[1,3]];
pgs.forEach((pg,i)=>{
  const [col,row] = pgPos[i];
  const fmtY = i===0 ? d3.format(".1f") : d3.format("d");
  const A = axes({...COLS[col],...ROWS[row]}, [0,5], pgYDom[i], ticksFreq, ticksAmp[i], d3.format("d"), fmtY);
  A.content.append("rect").attr("x",A.x(fRot[i]-0.05)).attr("width",A.x(fRot[i]+0.05)-A.x(fRot[i]-0.05))
    .attr("y",ROWS[row].y0).attr("height",ROWS[row].y1-ROWS[row].y0).attr("fill","#c8c8c8");
  const line = d3.line().x(d=>A.x(d[0])).y(d=>A.y(d[1]));
  A.content.append("path").attr("d",line(pg)).attr("fill","none").attr("stroke","#000")
    .attr("stroke-width",2).attr("stroke-linejoin","round");
  A.frame.raise();
  const ib = INSETS[i];
  svg.append("rect").attr("x",ib.x0).attr("y",ib.y0).attr("width",ib.x1-ib.x0).attr("height",ib.y1-ib.y0).attr("fill","#fff");
  const I = axes(ib, [0,5], insYDom[i], ticksInsX, ticksInsY[i], ()=>"", ()=>"", {tickLen:4, frame:"#111"});
  I.content.append("path").attr("d",d3.line().x(d=>I.x(d[0])).y(d=>I.y(d[1]))(inss[i]))
    .attr("fill","none").attr("stroke","#000").attr("stroke-width",1.8).attr("stroke-linejoin","round");
  I.frame.raise();
});

xlabelBJD(0,0); xlabelBJD(1,0); xlabelBJD(0,2); xlabelBJD(1,2);
xlabelFreq(0,1); xlabelFreq(1,1); xlabelFreq(0,3); xlabelFreq(1,3);
ylabelDT(0,21); ylabelDT(2,21);
ylabelAmp(1,20); ylabelAmp(3,42);

fLabel(139,430,"rot",true,fRot[0]);
fLabel(151,480,"1",false,fOne[0]);
svg.append("text").attr("x",423).attr("y",431).attr("font-size",LABFS).text(starNames[0]);
fLabel(787,430,"rot",true,fRot[1]);
svg.append("text").attr("x",1038).attr("y",431).attr("font-size",LABFS).text(starNames[1]);
fLabel(139,1193,"rot",true,fRot[2]);
svg.append("text").attr("x",423).attr("y",1193).attr("font-size",LABFS).text(starNames[2]);
fLabel(796,1193,"rot",true,fRot[3]);
fLabel(851,1243,"1",false,fOne[3]);
svg.append("text").attr("x",1038).attr("y",1193).attr("font-size",LABFS).text(starNames[3]);
</script>
</body></html>
